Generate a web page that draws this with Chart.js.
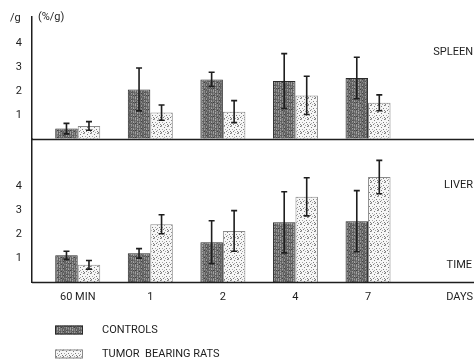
<!DOCTYPE html>
<html>
<head>
<meta charset="utf-8">
<script src="https://cdn.jsdelivr.net/npm/chart.js@4/dist/chart.umd.min.js"></script>
<style>
  html, body { margin: 0; padding: 0; background: #fff; }
  #wrap { position: relative; width: 474px; height: 361px; }
</style>
</head>
<body>
<div id="wrap"><canvas id="organChart" width="474" height="361"></canvas></div>
<script>
"use strict";

// ─── Data ─────────────────────────────────────────────────
const timeLabels = ["60 MIN", "1", "2", "4", "7"];
const yTicks = [1, 2, 3, 4];
const seriesNames = ["CONTROLS", "TUMOR  BEARING RATS"];

const spleenControls    = [0.43, 2.07, 2.49, 2.42, 2.55];
const spleenControlsErr = [0.22, 0.90, 0.30, 1.15, 0.87];
const spleenTumor       = [0.54, 1.10, 1.14, 1.82, 1.51];
const spleenTumorErr    = [0.18, 0.32, 0.46, 0.80, 0.33];

const liverControls     = [1.12, 1.20, 1.67, 2.50, 2.55];
const liverControlsErr  = [0.17, 0.20, 0.90, 1.28, 1.28];
const liverTumor        = [0.72, 2.42, 2.14, 3.57, 4.40];
const liverTumorErr     = [0.18, 0.40, 0.85, 0.80, 0.70];

const FONT = "Roboto, 'Liberation Sans', sans-serif";
const INK = "#1e1e1e";

// ─── Fill patterns (scan-like textures) ───────────────────
const canvas = document.getElementById("organChart");
const ctx2d = canvas.getContext("2d");

// fixed irregular tiles so the fill doesn't read as hatching
const DARK_TILE = [
  "6b5a7e6f8a5c6",
  "8457695e7b6d5",
  "5e7c6a8659726",
  "7a5f8b5d6e8a5",
  "65837259786b6",
  "8e6a5c7f6285a",
  "5b7d6e588c667",
];
const LIGHT_DOTS = [[0,0],[3,1],[6,0],[1,3],[5,3],[2,5],[4,6],[6,5],[0,6],[3,4]];

function pattern(kind) {
  const c = document.createElement("canvas");
  const g = c.getContext("2d");
  if (kind === "dark") {
    c.width = DARK_TILE[0].length; c.height = DARK_TILE.length;
    DARK_TILE.forEach((row, y) => {
      [...row].forEach((ch, x) => {
        const v = parseInt(ch, 16) * 8 + 50;
        g.fillStyle = `rgb(${v},${v},${v})`;
        g.fillRect(x, y, 1, 1);
      });
    });
  } else {
    c.width = 7; c.height = 7;
    g.fillStyle = "#f6f6f6"; g.fillRect(0, 0, 7, 7);
    LIGHT_DOTS.forEach(([x, y], i) => {
      g.fillStyle = i % 3 === 0 ? "#a8a8a8" : "#7c7c7c";
      g.fillRect(x, y, 1, 1);
    });
  }
  return ctx2d.createPattern(c, "repeat");
}

const FILL_C = pattern("dark");
const FILL_T = pattern("light");
const EDGE_C = "#2a2a2a";
const EDGE_T = "#8a8a8a";

const pts = (vals) => vals.map((v, i) => ({ x: i, y: v }));

// ─── Error bars, panel labels, legend ─────────────────────
const extrasPlugin = {
  id: "extras",
  afterDatasetsDraw(chart) {
    const { ctx, chartArea } = chart;
    const yl = chart.scales.yl, ys = chart.scales.ys;

    // baselines of both panels
    ctx.save();
    ctx.strokeStyle = INK;
    ctx.lineWidth = 1.5;
    [yl, ys].forEach(sc => {
      const y = Math.round(sc.getPixelForValue(0)) + 0.5;
      ctx.beginPath(); ctx.moveTo(chartArea.left, y); ctx.lineTo(chartArea.right, y); ctx.stroke();
    });
    ctx.restore();

    // error bars
    chart.data.datasets.forEach((ds, i) => {
      const meta = chart.getDatasetMeta(i);
      const sc = chart.scales[ds.yAxisID];
      meta.data.forEach((bar, j) => {
        const v = ds.data[j].y, e = ds.errors[j];
        const top = sc.getPixelForValue(v + e);
        const bot = sc.getPixelForValue(Math.max(v - e, 0));
        ctx.save();
        ctx.strokeStyle = INK;
        ctx.lineWidth = 1.6;
        ctx.beginPath();
        ctx.moveTo(bar.x, top); ctx.lineTo(bar.x, bot);
        ctx.moveTo(bar.x - 3, top); ctx.lineTo(bar.x + 3, top);
        ctx.moveTo(bar.x - 3, bot); ctx.lineTo(bar.x + 3, bot);
        ctx.stroke();
        ctx.restore();
      });
    });
  },
  afterDraw(chart) {
    const { ctx } = chart;
    ctx.save();
    ctx.fillStyle = INK;
    ctx.font = "11px " + FONT;
    ctx.textBaseline = "middle";

    ctx.textAlign = "left";
    ctx.fillText("/g", 10, 18);
    ctx.fillText("(%/g)", 38, 17);

    ctx.textAlign = "right";
    ctx.fillText("SPLEEN", 473, 52);
    ctx.fillText("LIVER", 473, 185);
    ctx.fillText("TIME", 472, 265);
    ctx.fillText("DAYS", 473, 297);

    // legend
    const fills = [FILL_C, FILL_T], edges = [EDGE_C, EDGE_T];
    seriesNames.forEach((name, i) => {
      const y = 330 + i * 24;
      ctx.fillStyle = fills[i];
      ctx.fillRect(55, y - 4.5, 28, 9);
      ctx.strokeStyle = edges[i];
      ctx.lineWidth = 1;
      ctx.strokeRect(55.5, y - 4, 27, 8);
      ctx.fillStyle = INK;
      ctx.textAlign = "left";
      ctx.fillText(name, 102, y + 0.5);
    });
    ctx.restore();
  },
};

// ─── Chart ────────────────────────────────────────────────
function barSet(label, vals, errs, axis, stack, fill, edge) {
  return {
    label, data: pts(vals), errors: errs, yAxisID: axis, stack,
    backgroundColor: fill, borderColor: edge, borderWidth: 1,
    categoryPercentage: 0.62, barPercentage: 1.0,
  };
}

function yAxis(max, weight) {
  return {
    type: "linear", position: "left", stack: "organs", stackWeight: weight,
    min: 0, max, stacked: false,
    grid: { display: false, drawTicks: false },
    border: { display: true, color: INK, width: 1.5 },
    ticks: { padding: 10, color: INK, font: { family: FONT, size: 11 } },
    afterBuildTicks: (s) => { s.ticks = yTicks.map(v => ({ value: v })); },
    afterFit: (s) => { s.width = 32; },
  };
}

new Chart(canvas, {
  type: "bar",
  data: {
    datasets: [
      barSet(seriesNames[0], liverControls,  liverControlsErr,  "yl", "c", FILL_C, EDGE_C),
      barSet(seriesNames[1], liverTumor,     liverTumorErr,     "yl", "t", FILL_T, EDGE_T),
      barSet(seriesNames[0], spleenControls, spleenControlsErr, "ys", "c", FILL_C, EDGE_C),
      barSet(seriesNames[1], spleenTumor,    spleenTumorErr,    "ys", "t", FILL_T, EDGE_T),
    ],
  },
  options: {
    responsive: false,
    animation: false,
    layout: { padding: { top: 15, right: 0, left: 0, bottom: 0 } },
    scales: {
      x: {
        type: "linear", position: "bottom", min: -0.63, max: 5.46, offset: false,
        grid: { display: false, drawTicks: false },
        border: { display: false },
        ticks: {
          padding: 9, color: INK, maxRotation: 0, autoSkip: false,
          font: { family: FONT, size: 11 },
          callback: (v) => timeLabels[v],
        },
        afterBuildTicks: (s) => { s.ticks = timeLabels.map((_, i) => ({ value: i })); },
        afterFit: (s) => { s.height = 79; s.paddingLeft = 0; s.paddingRight = 0; },
      },
      yl: yAxis(6, 144),
      ys: yAxis(5.12, 123),
    },
    plugins: { legend: { display: false }, tooltip: { enabled: false } },
  },
  plugins: [extrasPlugin],
});
</script>
</body>
</html>
